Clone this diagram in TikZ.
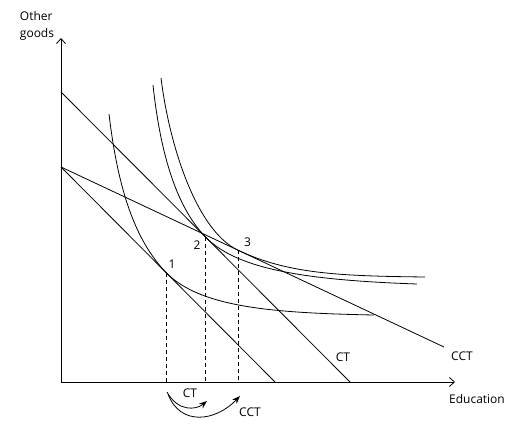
\documentclass[tikz,border=0pt]{standalone}
\usepackage{fontspec}
\setmainfont{Open Sans}
\usetikzlibrary{positioning, arrows.meta}

\begin{document}
\begin{tikzpicture}[x=1pt, y=1pt,
        axisline/.style={-{Straight Barb[length=5pt, width=9pt]}, line width=0.8pt},
        budget/.style={line width=0.8pt},
        icurve/.style={line width=0.8pt},
        guide/.style={line width=0.8pt, dash pattern=on 4pt off 3pt},
        transfer/.style={-{Stealth[length=8pt, width=6pt]}, line width=0.8pt},
        lbl/.style={font=\fontsize{12}{17}\selectfont, inner sep=1pt}
    ]
    \useasboundingbox (0,0) rectangle (520,440);

    % axes
    \coordinate (o) at (61,58);
    \coordinate (ytop) at (61,402);
    \coordinate (xend) at (455,58);
    \draw[axisline] (o) -- (ytop);
    \draw[axisline] (o) -- (xend);
    \node[lbl, align=left] (ylab) at (37,414.5) {Other\\goods};
    \node[lbl] (xlab) at (477,41) {Education};

    % budget lines
    \coordinate (b0) at (61,273);
    \coordinate (b1) at (275,58);
    \coordinate (a0) at (61,348);
    \coordinate (a1) at (350,58);
    \coordinate (c1) at (444,93);
    \draw[budget] (b0) -- (b1);
    \draw[budget] (a0) -- (a1);
    \draw[budget] (b0) -- (c1);
    \node[lbl] (ct) at (343,83) {CT};
    \node[lbl] (cct) at (462,84) {CCT};

    % optimum points
    \coordinate (p1) at (166,167.5);
    \coordinate (p2) at (205,203.5);
    \coordinate (p3) at (238,189.8);
    \node[lbl] (n1) at (172,176) {1};
    \node[lbl] (n2) at (197,195) {2};
    \node[lbl] (n3) at (247.5,198) {3};

    % indifference curves
    \draw[icurve] (109,326) .. controls (118,250) and (135,200) .. (p1)
        .. controls (200,133) and (270,127) .. (374,125);
    \draw[icurve] (153,355) .. controls (160,290) and (175,235) .. (p2)
        .. controls (235,172) and (300,160) .. (417,156);
    \draw[icurve] (161,362) .. controls (170,290) and (198,208.6) .. (p3)
        .. controls (288,166) and (340,164) .. (425,163);

    % projections on the axis
    \draw[guide] (p1) -- (p1 |- o);
    \draw[guide] (p2) -- (p2 |- o);
    \draw[guide] (p3) -- (p3 |- o);

    % moves along education
    \coordinate (s1) at (167,48);
    \coordinate (t1) at (207,39);
    \coordinate (s2) at (168,46);
    \coordinate (t2) at (240,44);
    \draw[transfer] (s1) .. controls (178,28) and (196,30) .. (t1);
    \draw[transfer] (s2) .. controls (180,14) and (215,18) .. (t2);
    \node[lbl] (ctmove) at (190,47) {CT};
    \node[lbl] (cctmove) at (250,28) {CCT};
\end{tikzpicture}
\end{document}
